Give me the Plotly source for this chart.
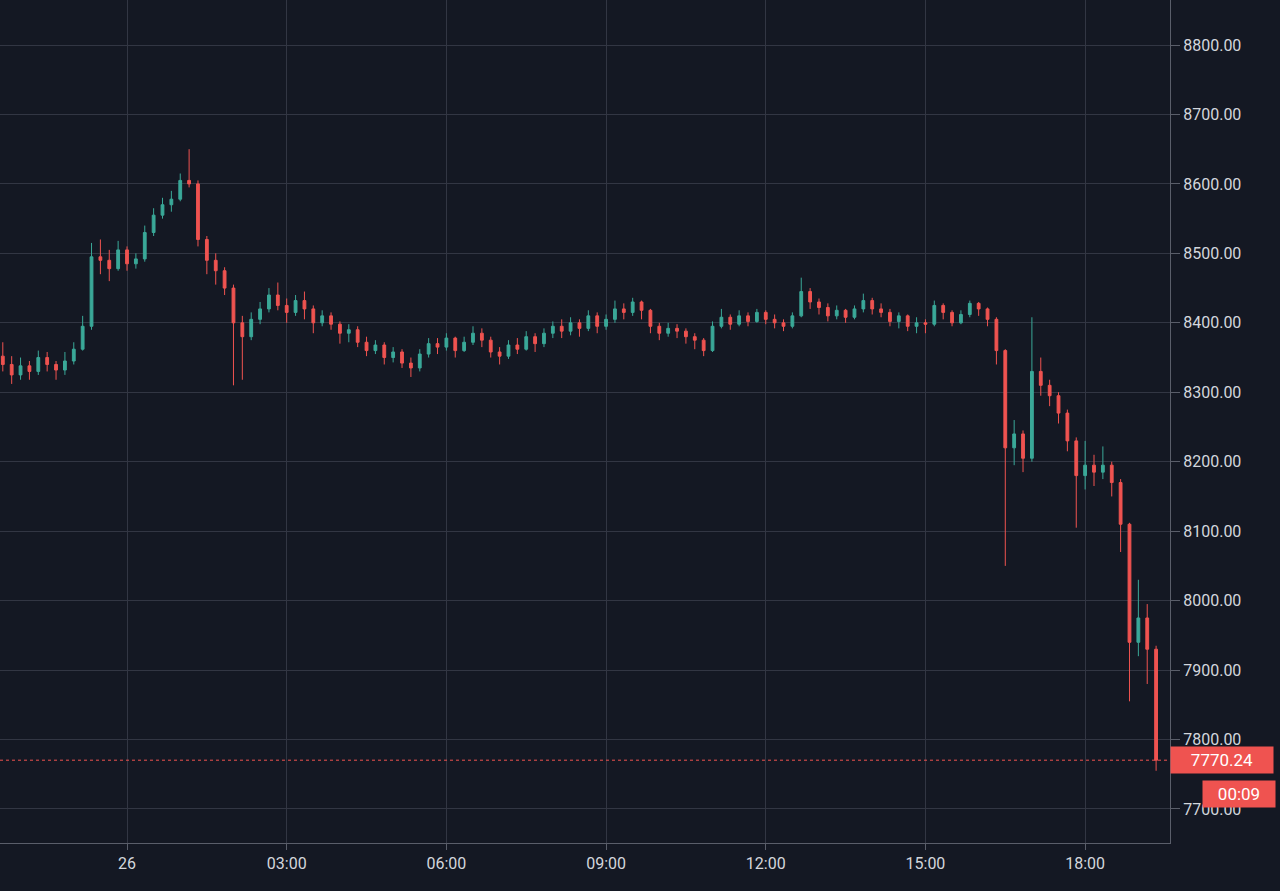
import plotly.graph_objects as go
import pandas as pd

# 10-minute candles from 2020-02-25 21:40 to 2020-02-26 19:20
start_time = "2020-02-25 21:40"
n_candles = 131

opens = [8352, 8340, 8325, 8338, 8330, 8350, 8340, 8332, 8345, 8362,
         8395, 8495, 8490, 8478, 8505, 8485, 8492, 8530, 8555, 8570,
         8578, 8605, 8600, 8520, 8490, 8475, 8450, 8400, 8380, 8405,
         8420, 8440, 8425, 8415, 8432, 8420, 8400, 8410, 8398, 8385,
         8390, 8372, 8360, 8368, 8350, 8358, 8342, 8335, 8355, 8370,
         8365, 8378, 8360, 8372, 8385, 8375, 8358, 8352, 8368, 8362,
         8380, 8370, 8385, 8395, 8388, 8400, 8392, 8410, 8395, 8405,
         8420, 8415, 8430, 8418, 8395, 8385, 8392, 8388, 8380, 8375,
         8360, 8395, 8408, 8398, 8410, 8402, 8415, 8405, 8400, 8395,
         8410, 8445, 8430, 8422, 8410, 8418, 8408, 8420, 8432, 8420,
         8415, 8402, 8410, 8395, 8400, 8398, 8425, 8415, 8400, 8412,
         8428, 8420, 8405, 8360, 8220, 8240, 8205, 8330, 8310, 8295,
         8270, 8230, 8180, 8195, 8185, 8195, 8170, 8110, 7940, 7975,
         7930]
highs = [8372, 8352, 8350, 8345, 8360, 8358, 8345, 8358, 8372, 8410,
         8515, 8520, 8505, 8518, 8510, 8500, 8540, 8565, 8580, 8590,
         8615, 8650, 8605, 8525, 8500, 8480, 8455, 8410, 8415, 8430,
         8450, 8458, 8435, 8440, 8445, 8425, 8418, 8415, 8402, 8398,
         8395, 8380, 8375, 8372, 8365, 8362, 8350, 8362, 8378, 8378,
         8385, 8380, 8380, 8395, 8392, 8380, 8365, 8375, 8378, 8388,
         8385, 8392, 8402, 8405, 8408, 8405, 8418, 8415, 8412, 8432,
         8428, 8436, 8432, 8420, 8400, 8400, 8398, 8392, 8385, 8378,
         8402, 8420, 8412, 8418, 8415, 8420, 8418, 8412, 8405, 8415,
         8465, 8450, 8435, 8428, 8425, 8420, 8425, 8442, 8436, 8428,
         8420, 8415, 8412, 8408, 8405, 8432, 8428, 8418, 8418, 8432,
         8430, 8422, 8408, 8362, 8260, 8245, 8408, 8350, 8318, 8300,
         8275, 8235, 8230, 8210, 8222, 8200, 8175, 8112, 8030, 7995,
         7935]
lows = [8330, 8312, 8318, 8318, 8325, 8330, 8318, 8325, 8340, 8360,
        8390, 8470, 8460, 8475, 8475, 8478, 8488, 8525, 8550, 8560,
        8575, 8595, 8510, 8470, 8455, 8440, 8310, 8318, 8375, 8398,
        8415, 8418, 8400, 8410, 8405, 8385, 8395, 8390, 8370, 8372,
        8365, 8352, 8355, 8340, 8343, 8335, 8322, 8330, 8350, 8355,
        8360, 8350, 8358, 8368, 8365, 8350, 8340, 8348, 8355, 8360,
        8358, 8365, 8378, 8378, 8382, 8380, 8388, 8385, 8390, 8400,
        8405, 8410, 8405, 8385, 8375, 8380, 8378, 8370, 8362, 8352,
        8358, 8392, 8390, 8395, 8395, 8400, 8398, 8392, 8388, 8392,
        8408, 8420, 8412, 8402, 8405, 8400, 8405, 8415, 8412, 8408,
        8395, 8392, 8388, 8385, 8385, 8395, 8405, 8395, 8398, 8408,
        8410, 8395, 8340, 8050, 8195, 8185, 8200, 8295, 8280, 8255,
        8215, 8105, 8160, 8165, 8175, 8150, 8070, 7855, 7920, 7880,
        7755]
closes = [8340, 8325, 8338, 8330, 8350, 8340, 8332, 8345, 8362, 8395,
          8495, 8490, 8478, 8505, 8485, 8492, 8530, 8555, 8570, 8578,
          8605, 8600, 8520, 8490, 8475, 8450, 8400, 8380, 8405, 8420,
          8440, 8425, 8415, 8432, 8420, 8400, 8410, 8398, 8385, 8390,
          8372, 8360, 8368, 8350, 8358, 8342, 8335, 8355, 8370, 8365,
          8378, 8360, 8372, 8385, 8375, 8358, 8352, 8368, 8362, 8380,
          8370, 8385, 8395, 8388, 8400, 8392, 8410, 8395, 8405, 8420,
          8415, 8430, 8418, 8395, 8385, 8392, 8388, 8380, 8375, 8360,
          8395, 8408, 8398, 8410, 8402, 8415, 8405, 8400, 8395, 8410,
          8445, 8430, 8422, 8410, 8418, 8408, 8420, 8432, 8420, 8415,
          8402, 8410, 8395, 8400, 8398, 8425, 8415, 8400, 8412, 8428,
          8420, 8405, 8360, 8220, 8240, 8205, 8330, 8310, 8295, 8270,
          8230, 8180, 8195, 8185, 8195, 8170, 8110, 7940, 7975, 7930,
          7770.24]

tick_times = ["2020-02-26 00:00", "2020-02-26 03:00", "2020-02-26 06:00",
              "2020-02-26 09:00", "2020-02-26 12:00", "2020-02-26 15:00",
              "2020-02-26 18:00"]
tick_labels = ["26", "03:00", "06:00", "09:00", "12:00", "15:00", "18:00"]
last_price = 7770.24
countdown = "00:09"

times = pd.date_range(start_time, periods=n_candles, freq="10min")

BG = "#141823"
GRID = "#323643"
TXT = "#d3d6dc"
UP = "#3aa898"
DOWN = "#ef5350"

fig = go.Figure(go.Candlestick(
    x=times, open=opens, high=highs, low=lows, close=closes,
    increasing=dict(line=dict(color=UP, width=1), fillcolor=UP),
    decreasing=dict(line=dict(color=DOWN, width=1), fillcolor=DOWN),
    whiskerwidth=0, hoverinfo="skip", showlegend=False,
))

fig.add_shape(type="line", xref="paper", x0=0, x1=1, yref="y",
              y0=last_price, y1=last_price,
              line=dict(color=DOWN, width=1, dash="dot"))

fig.add_annotation(xref="paper", x=1.0, xanchor="left", yref="y", y=last_price,
                   text=f"{last_price:.2f}", showarrow=False,
                   font=dict(color="white", size=17, family="Roboto"),
                   bgcolor=DOWN, width=100, height=24, align="center")
fig.add_annotation(xref="paper", x=1.0, xshift=32, xanchor="left", yref="y", y=7721.5,
                   text=countdown, showarrow=False,
                   font=dict(color="white", size=17, family="Roboto"),
                   bgcolor=DOWN, width=70, height=24, align="center")

fig.update_layout(
    width=1280, height=891,
    paper_bgcolor=BG, plot_bgcolor=BG,
    margin=dict(l=0, r=110, t=0, b=48),
    font=dict(family="Roboto", color=TXT, size=16),
    boxgap=0.55,
    xaxis=dict(
        type="date",
        range=["2020-02-25 21:36:50", "2020-02-26 19:35:40"],
        rangeslider=dict(visible=False),
        tickvals=tick_times, ticktext=tick_labels,
        showgrid=True, gridcolor=GRID, gridwidth=1,
        showline=True, linecolor="#5a5e6a", linewidth=1,
        ticks="outside", ticklen=6, tickcolor="#5a5e6a",
        tickfont=dict(size=16, color=TXT),
        zeroline=False, fixedrange=True,
    ),
    yaxis=dict(
        side="right",
        range=[7651.0, 8864.8],
        tick0=0, dtick=100, tickformat=".2f",
        showgrid=True, gridcolor=GRID, gridwidth=1,
        showline=True, linecolor="#5a5e6a", linewidth=1,
        ticks="outside", ticklen=9, tickcolor="#5a5e6a",
        tickfont=dict(size=16, color=TXT),
        zeroline=False, fixedrange=True,
    ),
    hovermode=False,
)

fig.write_html(
    "out.html",
    config={"displayModeBar": False, "staticPlot": True},
    post_script="document.body.style.margin='0';document.body.style.padding='0';"
                "document.body.style.overflow='hidden';"
                "document.body.style.background='" + BG + "';",
)
